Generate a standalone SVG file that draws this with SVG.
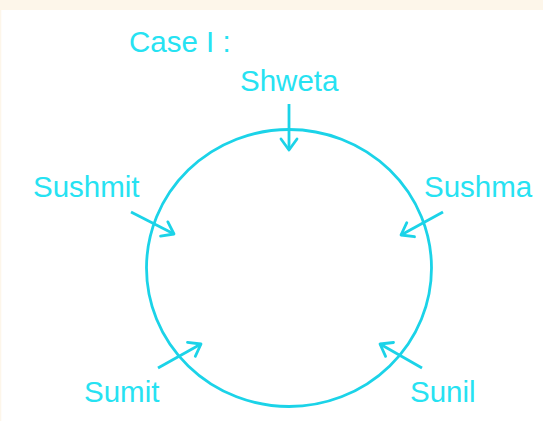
<svg xmlns="http://www.w3.org/2000/svg" width="543" height="421" viewBox="0 0 543 421">
<style>
.lbl{font-family:"Liberation Sans",Arial,sans-serif;font-size:29.5px;fill:#26e2f2;}
.ln{stroke:#1bd3e8;stroke-width:2.8;fill:none;}
</style>
<defs>
<marker id="ah" markerUnits="userSpaceOnUse" markerWidth="30" markerHeight="30" viewBox="-15 -15 30 30" refX="0" refY="0" orient="auto" overflow="visible">
<path d="M-11,-8 L0,0 L-11,8" fill="none" stroke="#1bd3e8" stroke-width="2.8" stroke-linecap="round" stroke-linejoin="round"/>
</marker>
</defs>
<rect width="543" height="421" fill="#fdf6ea"/>
<rect x="1.3" y="10" width="542" height="411" fill="#ffffff"/>
<text class="lbl" x="129" y="52">Case I :</text>
<g id="circle"><ellipse class="ln" cx="289" cy="268" rx="142.5" ry="138.5"/></g>
<g id="shweta"><text class="lbl" x="240" y="91">Shweta</text></g>
<g id="sushmit"><text class="lbl" x="33" y="197">Sushmit</text></g>
<g id="sushma"><text class="lbl" x="424" y="197">Sushma</text></g>
<g id="sumit"><text class="lbl" x="84" y="402">Sumit</text></g>
<g id="sunil"><text class="lbl" x="410" y="402">Sunil</text></g>
<g id="connectors">
<line class="ln" x1="289" y1="104" x2="289" y2="150" marker-end="url(#ah)"/>
<line class="ln" x1="131" y1="212" x2="174" y2="234" marker-end="url(#ah)"/>
<line class="ln" x1="443" y1="212" x2="401" y2="235" marker-end="url(#ah)"/>
<line class="ln" x1="158" y1="368" x2="201" y2="344" marker-end="url(#ah)"/>
<line class="ln" x1="422" y1="368" x2="380" y2="344" marker-end="url(#ah)"/>
</g>
</svg>
